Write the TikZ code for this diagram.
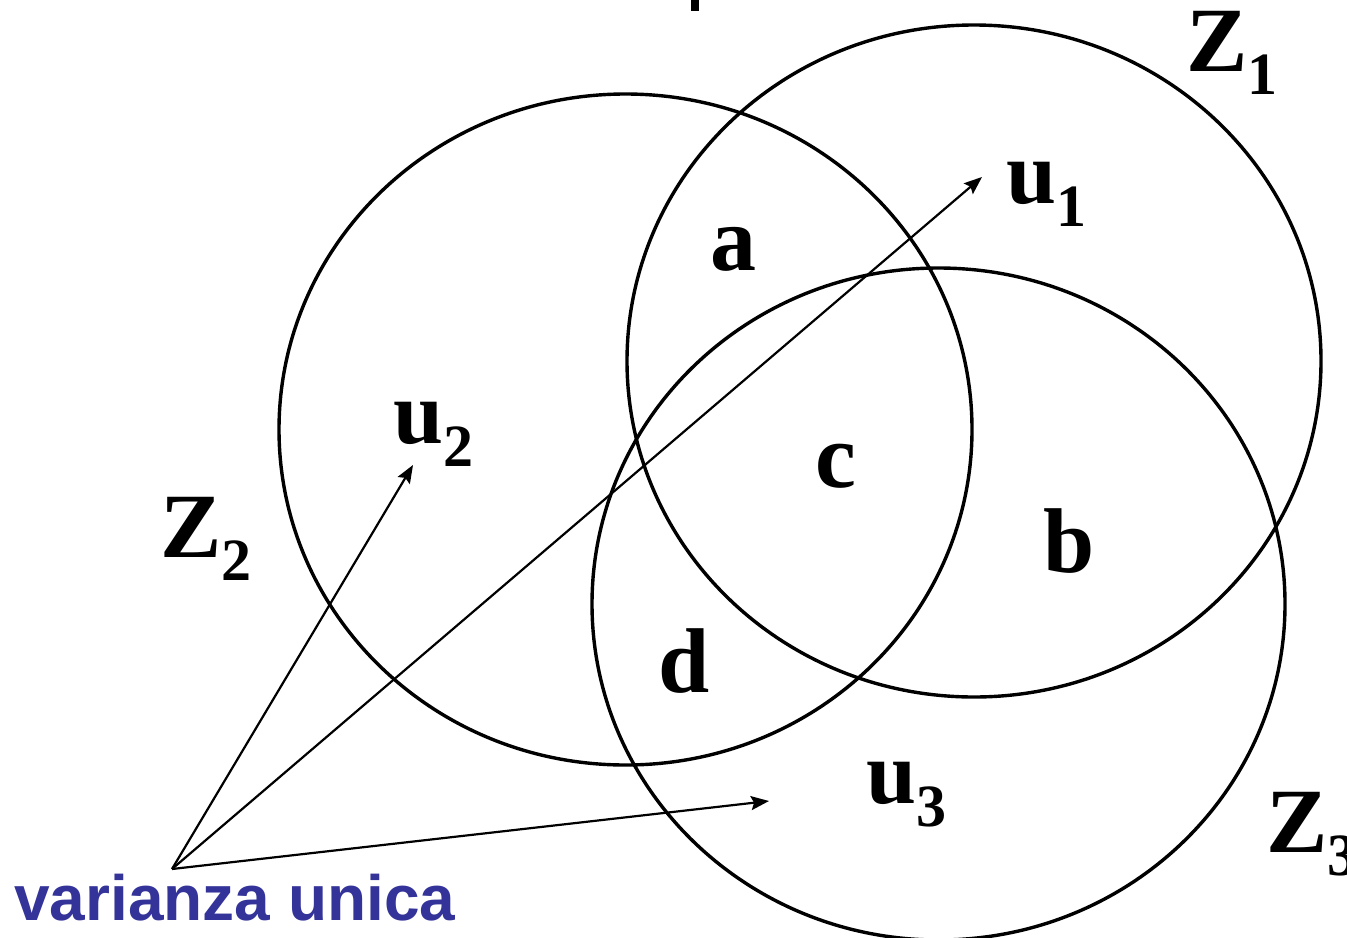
\documentclass[tikz,border=0pt]{standalone}
\usepackage{fontspec}
\setmainfont{Liberation Serif}
\newfontfamily\labelsans{Liberation Sans}
\usepackage{tikz}
\usetikzlibrary{arrows.meta, positioning}
\definecolor{varblue}{RGB}{51,51,153}
\newcommand{\setlab}[2]{#1\raisebox{-11.5pt}{\fontsize{30}{30}\selectfont #2}}

\begin{document}
\begin{tikzpicture}[
		x=0.5pt, y=-0.5pt,
		circ/.style={line width=1.7pt},
		lab/.style={
				anchor=base west,
				inner sep=0pt,
				font=\bfseries\fontsize{46}{46}\selectfont
			},
		zlab/.style={lab, font=\bfseries\fontsize{46}{46}\selectfont},
		ulab/.style={lab, font=\bfseries\fontsize{45}{45}\selectfont},
		pointer/.style={-{Stealth[length=9pt, width=7pt, inset=1.5pt]}, line width=1.1pt}
	]
	\useasboundingbox (0,0) rectangle (1347,937);

	% the three sets
	\draw[circ] (974,361) ellipse [x radius=347, y radius=336];
	\draw[circ] (625.5,429.5) ellipse [x radius=346.5, y radius=335.5];
	\draw[circ] (938.5,604) ellipse [x radius=346.5, y radius=336];

	% cut-off mark at the top
	\fill (691,0) rectangle (699,11);

	\node[zlab] (z1) at (1186,71) {\setlab{Z}{1}};
	\node[zlab] (z2) at (160,557) {\setlab{Z}{2}};
	\node[zlab] (z3) at (1266,852) {\setlab{Z}{3}};

	\node[ulab] (u1) at (1006,203) {\setlab{u}{1}};
	\node[ulab] (u2) at (393,443) {\setlab{u}{2}};
	\node[ulab] (u3) at (866,803) {\setlab{u}{3}};

	\node[lab] (a) at (710,270) {a};
	\node[lab] (b) at (1043,572) {b};
	\node[lab] (c) at (815,487) {c};
	\node[lab] (d) at (658,692) {d};

	\node[lab, text=varblue, font=\labelsans\bfseries\fontsize{32}{32}\selectfont]
	(unica) at (14,920) {varianza unica};

	\coordinate (src) at (172,869);
	\coordinate (tip1) at (982,177);
	\coordinate (tip2) at (413,465);
	\coordinate (tip3) at (769,801);

	\draw[pointer] (src) -- (tip2);
	\draw[pointer] (src) -- (tip1);
	\draw[pointer] (src) -- (tip3);
\end{tikzpicture}
\end{document}
